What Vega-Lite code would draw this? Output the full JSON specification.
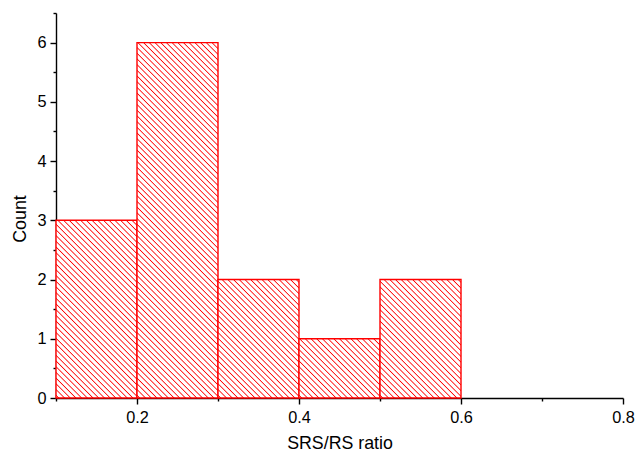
{
  "$schema": "https://vega.github.io/schema/vega-lite/v6.json",
  "width": 567,
  "height": 385,
  "autosize": "none",
  "padding": {"left": 56, "top": 13, "right": 12, "bottom": 54},
  "background": "white",
  "config": {"view": {"stroke": null}},
  "params": [
    {"name": "hatch", "value": [
      {"offset":0.00375,"color":"#fff"},{"offset":0.00625,"color":"#f00"},{"offset":0.00875,"color":"#fff"},
      {"offset":0.01625,"color":"#fff"},{"offset":0.01875,"color":"#f00"},{"offset":0.02125,"color":"#fff"},
      {"offset":0.02875,"color":"#fff"},{"offset":0.03125,"color":"#f00"},{"offset":0.03375,"color":"#fff"},
      {"offset":0.04125,"color":"#fff"},{"offset":0.04375,"color":"#f00"},{"offset":0.04625,"color":"#fff"},
      {"offset":0.05375,"color":"#fff"},{"offset":0.05625,"color":"#f00"},{"offset":0.05875,"color":"#fff"},
      {"offset":0.06625,"color":"#fff"},{"offset":0.06875,"color":"#f00"},{"offset":0.07125,"color":"#fff"},
      {"offset":0.07875,"color":"#fff"},{"offset":0.08125,"color":"#f00"},{"offset":0.08375,"color":"#fff"},
      {"offset":0.09125,"color":"#fff"},{"offset":0.09375,"color":"#f00"},{"offset":0.09625,"color":"#fff"},
      {"offset":0.10375,"color":"#fff"},{"offset":0.10625,"color":"#f00"},{"offset":0.10875,"color":"#fff"},
      {"offset":0.11625,"color":"#fff"},{"offset":0.11875,"color":"#f00"},{"offset":0.12125,"color":"#fff"},
      {"offset":0.12875,"color":"#fff"},{"offset":0.13125,"color":"#f00"},{"offset":0.13375,"color":"#fff"},
      {"offset":0.14125,"color":"#fff"},{"offset":0.14375,"color":"#f00"},{"offset":0.14625,"color":"#fff"},
      {"offset":0.15375,"color":"#fff"},{"offset":0.15625,"color":"#f00"},{"offset":0.15875,"color":"#fff"},
      {"offset":0.16625,"color":"#fff"},{"offset":0.16875,"color":"#f00"},{"offset":0.17125,"color":"#fff"},
      {"offset":0.17875,"color":"#fff"},{"offset":0.18125,"color":"#f00"},{"offset":0.18375,"color":"#fff"},
      {"offset":0.19125,"color":"#fff"},{"offset":0.19375,"color":"#f00"},{"offset":0.19625,"color":"#fff"},
      {"offset":0.20375,"color":"#fff"},{"offset":0.20625,"color":"#f00"},{"offset":0.20875,"color":"#fff"},
      {"offset":0.21625,"color":"#fff"},{"offset":0.21875,"color":"#f00"},{"offset":0.22125,"color":"#fff"},
      {"offset":0.22875,"color":"#fff"},{"offset":0.23125,"color":"#f00"},{"offset":0.23375,"color":"#fff"},
      {"offset":0.24125,"color":"#fff"},{"offset":0.24375,"color":"#f00"},{"offset":0.24625,"color":"#fff"},
      {"offset":0.25375,"color":"#fff"},{"offset":0.25625,"color":"#f00"},{"offset":0.25875,"color":"#fff"},
      {"offset":0.26625,"color":"#fff"},{"offset":0.26875,"color":"#f00"},{"offset":0.27125,"color":"#fff"},
      {"offset":0.27875,"color":"#fff"},{"offset":0.28125,"color":"#f00"},{"offset":0.28375,"color":"#fff"},
      {"offset":0.29125,"color":"#fff"},{"offset":0.29375,"color":"#f00"},{"offset":0.29625,"color":"#fff"},
      {"offset":0.30375,"color":"#fff"},{"offset":0.30625,"color":"#f00"},{"offset":0.30875,"color":"#fff"},
      {"offset":0.31625,"color":"#fff"},{"offset":0.31875,"color":"#f00"},{"offset":0.32125,"color":"#fff"},
      {"offset":0.32875,"color":"#fff"},{"offset":0.33125,"color":"#f00"},{"offset":0.33375,"color":"#fff"},
      {"offset":0.34125,"color":"#fff"},{"offset":0.34375,"color":"#f00"},{"offset":0.34625,"color":"#fff"},
      {"offset":0.35375,"color":"#fff"},{"offset":0.35625,"color":"#f00"},{"offset":0.35875,"color":"#fff"},
      {"offset":0.36625,"color":"#fff"},{"offset":0.36875,"color":"#f00"},{"offset":0.37125,"color":"#fff"},
      {"offset":0.37875,"color":"#fff"},{"offset":0.38125,"color":"#f00"},{"offset":0.38375,"color":"#fff"},
      {"offset":0.39125,"color":"#fff"},{"offset":0.39375,"color":"#f00"},{"offset":0.39625,"color":"#fff"},
      {"offset":0.40375,"color":"#fff"},{"offset":0.40625,"color":"#f00"},{"offset":0.40875,"color":"#fff"},
      {"offset":0.41625,"color":"#fff"},{"offset":0.41875,"color":"#f00"},{"offset":0.42125,"color":"#fff"},
      {"offset":0.42875,"color":"#fff"},{"offset":0.43125,"color":"#f00"},{"offset":0.43375,"color":"#fff"},
      {"offset":0.44125,"color":"#fff"},{"offset":0.44375,"color":"#f00"},{"offset":0.44625,"color":"#fff"},
      {"offset":0.45375,"color":"#fff"},{"offset":0.45625,"color":"#f00"},{"offset":0.45875,"color":"#fff"},
      {"offset":0.46625,"color":"#fff"},{"offset":0.46875,"color":"#f00"},{"offset":0.47125,"color":"#fff"},
      {"offset":0.47875,"color":"#fff"},{"offset":0.48125,"color":"#f00"},{"offset":0.48375,"color":"#fff"},
      {"offset":0.49125,"color":"#fff"},{"offset":0.49375,"color":"#f00"},{"offset":0.49625,"color":"#fff"},
      {"offset":0.50375,"color":"#fff"},{"offset":0.50625,"color":"#f00"},{"offset":0.50875,"color":"#fff"},
      {"offset":0.51625,"color":"#fff"},{"offset":0.51875,"color":"#f00"},{"offset":0.52125,"color":"#fff"},
      {"offset":0.52875,"color":"#fff"},{"offset":0.53125,"color":"#f00"},{"offset":0.53375,"color":"#fff"},
      {"offset":0.54125,"color":"#fff"},{"offset":0.54375,"color":"#f00"},{"offset":0.54625,"color":"#fff"},
      {"offset":0.55375,"color":"#fff"},{"offset":0.55625,"color":"#f00"},{"offset":0.55875,"color":"#fff"},
      {"offset":0.56625,"color":"#fff"},{"offset":0.56875,"color":"#f00"},{"offset":0.57125,"color":"#fff"},
      {"offset":0.57875,"color":"#fff"},{"offset":0.58125,"color":"#f00"},{"offset":0.58375,"color":"#fff"},
      {"offset":0.59125,"color":"#fff"},{"offset":0.59375,"color":"#f00"},{"offset":0.59625,"color":"#fff"},
      {"offset":0.60375,"color":"#fff"},{"offset":0.60625,"color":"#f00"},{"offset":0.60875,"color":"#fff"},
      {"offset":0.61625,"color":"#fff"},{"offset":0.61875,"color":"#f00"},{"offset":0.62125,"color":"#fff"},
      {"offset":0.62875,"color":"#fff"},{"offset":0.63125,"color":"#f00"},{"offset":0.63375,"color":"#fff"},
      {"offset":0.64125,"color":"#fff"},{"offset":0.64375,"color":"#f00"},{"offset":0.64625,"color":"#fff"},
      {"offset":0.65375,"color":"#fff"},{"offset":0.65625,"color":"#f00"},{"offset":0.65875,"color":"#fff"},
      {"offset":0.66625,"color":"#fff"},{"offset":0.66875,"color":"#f00"},{"offset":0.67125,"color":"#fff"},
      {"offset":0.67875,"color":"#fff"},{"offset":0.68125,"color":"#f00"},{"offset":0.68375,"color":"#fff"},
      {"offset":0.69125,"color":"#fff"},{"offset":0.69375,"color":"#f00"},{"offset":0.69625,"color":"#fff"},
      {"offset":0.70375,"color":"#fff"},{"offset":0.70625,"color":"#f00"},{"offset":0.70875,"color":"#fff"},
      {"offset":0.71625,"color":"#fff"},{"offset":0.71875,"color":"#f00"},{"offset":0.72125,"color":"#fff"},
      {"offset":0.72875,"color":"#fff"},{"offset":0.73125,"color":"#f00"},{"offset":0.73375,"color":"#fff"},
      {"offset":0.74125,"color":"#fff"},{"offset":0.74375,"color":"#f00"},{"offset":0.74625,"color":"#fff"},
      {"offset":0.75375,"color":"#fff"},{"offset":0.75625,"color":"#f00"},{"offset":0.75875,"color":"#fff"},
      {"offset":0.76625,"color":"#fff"},{"offset":0.76875,"color":"#f00"},{"offset":0.77125,"color":"#fff"},
      {"offset":0.77875,"color":"#fff"},{"offset":0.78125,"color":"#f00"},{"offset":0.78375,"color":"#fff"},
      {"offset":0.79125,"color":"#fff"},{"offset":0.79375,"color":"#f00"},{"offset":0.79625,"color":"#fff"},
      {"offset":0.80375,"color":"#fff"},{"offset":0.80625,"color":"#f00"},{"offset":0.80875,"color":"#fff"},
      {"offset":0.81625,"color":"#fff"},{"offset":0.81875,"color":"#f00"},{"offset":0.82125,"color":"#fff"},
      {"offset":0.82875,"color":"#fff"},{"offset":0.83125,"color":"#f00"},{"offset":0.83375,"color":"#fff"},
      {"offset":0.84125,"color":"#fff"},{"offset":0.84375,"color":"#f00"},{"offset":0.84625,"color":"#fff"},
      {"offset":0.85375,"color":"#fff"},{"offset":0.85625,"color":"#f00"},{"offset":0.85875,"color":"#fff"},
      {"offset":0.86625,"color":"#fff"},{"offset":0.86875,"color":"#f00"},{"offset":0.87125,"color":"#fff"},
      {"offset":0.87875,"color":"#fff"},{"offset":0.88125,"color":"#f00"},{"offset":0.88375,"color":"#fff"},
      {"offset":0.89125,"color":"#fff"},{"offset":0.89375,"color":"#f00"},{"offset":0.89625,"color":"#fff"},
      {"offset":0.90375,"color":"#fff"},{"offset":0.90625,"color":"#f00"},{"offset":0.90875,"color":"#fff"},
      {"offset":0.91625,"color":"#fff"},{"offset":0.91875,"color":"#f00"},{"offset":0.92125,"color":"#fff"},
      {"offset":0.92875,"color":"#fff"},{"offset":0.93125,"color":"#f00"},{"offset":0.93375,"color":"#fff"},
      {"offset":0.94125,"color":"#fff"},{"offset":0.94375,"color":"#f00"},{"offset":0.94625,"color":"#fff"},
      {"offset":0.95375,"color":"#fff"},{"offset":0.95625,"color":"#f00"},{"offset":0.95875,"color":"#fff"},
      {"offset":0.96625,"color":"#fff"},{"offset":0.96875,"color":"#f00"},{"offset":0.97125,"color":"#fff"},
      {"offset":0.97875,"color":"#fff"},{"offset":0.98125,"color":"#f00"},{"offset":0.98375,"color":"#fff"},
      {"offset":0.99125,"color":"#fff"},{"offset":0.99375,"color":"#f00"},{"offset":0.99625,"color":"#fff"}
    ]}
  ],
  "data": {"values": [
    {"bin_start": 0.1, "bin_end": 0.2, "count": 3},
    {"bin_start": 0.2, "bin_end": 0.3, "count": 6},
    {"bin_start": 0.3, "bin_end": 0.4, "count": 2},
    {"bin_start": 0.4, "bin_end": 0.5, "count": 1},
    {"bin_start": 0.5, "bin_end": 0.6, "count": 2}
  ]},
  "mark": {
    "type": "rect",
    "stroke": "#ff0000",
    "strokeWidth": 1.4,
    "fill": {"expr": "{gradient: 'linear', x1: 0, y1: 1, x2: 456*81/(6561 + pow(datum.count*59.231, 2)), y2: 1 - 456*datum.count*59.231/(6561 + pow(datum.count*59.231, 2)), stops: hatch}"}
  },
  "encoding": {
    "x": {
      "field": "bin_start", "type": "quantitative",
      "scale": {"domain": [0.1, 0.8], "nice": false, "zero": false},
      "axis": {
        "title": "SRS/RS ratio",
        "values": [0.1, 0.2, 0.3, 0.4, 0.5, 0.6, 0.7, 0.8],
        "labelExpr": "round(datum.value*10) % 2 === 0 ? format(datum.value, '.1f') : ''",
        "tickSize": {"condition": {"test": "round(datum.value*10) % 2 !== 0", "value": 3}, "value": 6},
        "grid": false,
        "domainColor": "#000", "domainWidth": 1.4,
        "tickColor": "#000", "tickWidth": 1.4,
        "labelFont": "Liberation Sans", "labelFontSize": 16.3, "labelColor": "#000", "labelPadding": 5,
        "labelFlush": false, "labelOverlap": false,
        "titleFont": "Liberation Sans", "titleFontSize": 17.8, "titleFontWeight": "normal", "titleColor": "#000",
        "titleBaseline": "alphabetic", "titleY": 50.5
      }
    },
    "x2": {"field": "bin_end"},
    "y": {
      "field": "count", "type": "quantitative",
      "scale": {"domain": [0, 6.5], "nice": false},
      "axis": {
        "title": "Count",
        "values": [0, 0.5, 1, 1.5, 2, 2.5, 3, 3.5, 4, 4.5, 5, 5.5, 6, 6.5],
        "labelExpr": "datum.value % 1 === 0 ? format(datum.value, 'd') : ''",
        "tickSize": {"condition": {"test": "datum.value % 1 !== 0", "value": 3}, "value": 6},
        "grid": false,
        "domainColor": "#000", "domainWidth": 1.4,
        "tickColor": "#000", "tickWidth": 1.4,
        "labelFont": "Liberation Sans", "labelFontSize": 16.3, "labelColor": "#000", "labelPadding": 4,
        "labelFlush": false, "labelOverlap": false,
        "titleFont": "Liberation Sans", "titleFontSize": 17.8, "titleFontWeight": "normal", "titleColor": "#000",
        "titleBaseline": "alphabetic", "titleX": -31, "titleY": 205.5
      }
    },
    "y2": {"datum": 0}
  }
}
